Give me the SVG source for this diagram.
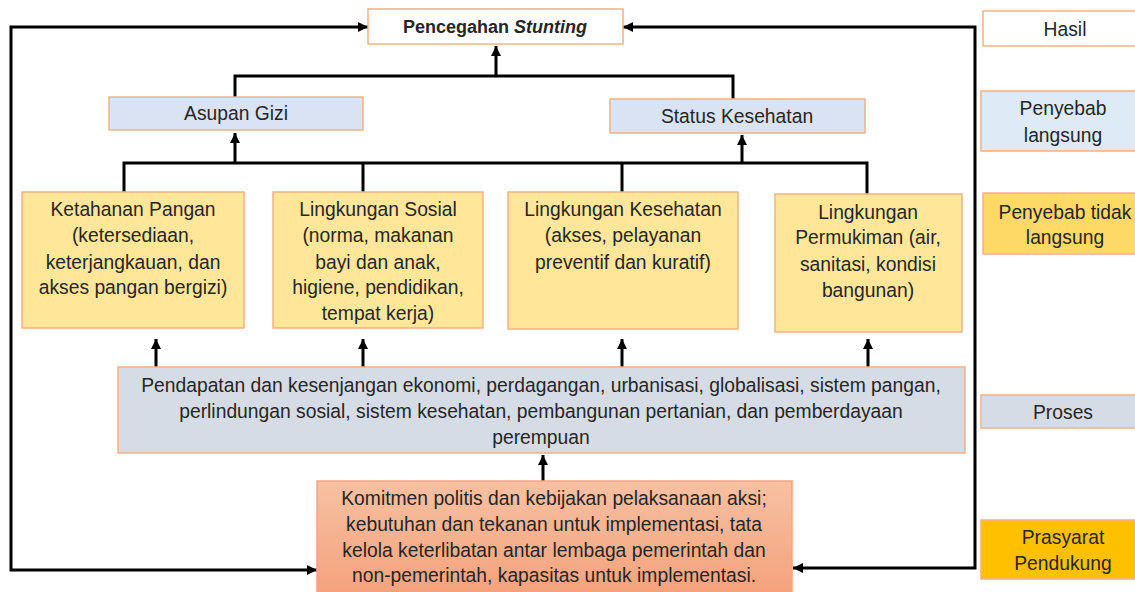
<svg xmlns="http://www.w3.org/2000/svg" width="1135" height="592" viewBox="0 0 1135 592">
  <style>
    text { font-family: "Liberation Sans", Arial, sans-serif; font-size: 19.3px; fill: #262626; text-anchor: middle; }
    .title { font-size: 18px; font-weight: bold; }
    .box { stroke: #F4B183; stroke-width: 1.5; }
    .white { fill: #FFFFFF; }
    .blue { fill: #DAE3F3; }
    .lblue { fill: #DEEBF7; }
    .yellow { fill: #FFE699; }
    .gray { fill: #D6DCE5; }
    .gold { fill: #FFD966; }
    .orange { fill: #FFC000; }
    .conn { fill: none; stroke: #000; stroke-width: 3; }
  </style>
  <defs>
    <marker id="arr" markerUnits="userSpaceOnUse" markerWidth="11" markerHeight="11" refX="10" refY="5" orient="auto-start-reverse">
      <path d="M0,0 L10,5 L0,10 z" fill="#000"/>
    </marker>
    <linearGradient id="salmon" x1="0" y1="0" x2="0" y2="1">
      <stop offset="0" stop-color="#F7C1A2"/>
      <stop offset="1" stop-color="#F4A27C"/>
    </linearGradient>
  </defs>
  <rect width="1135" height="592" fill="#FFFFFF"/>

  <g id="connectors">
    <path class="conn" d="M235,97 V76 H733 V99"/>
    <path class="conn" d="M496,76 V46" marker-end="url(#arr)"/>
    <path class="conn" d="M124,192 V163 H867 V194"/>
    <path class="conn" d="M363,163 V192"/>
    <path class="conn" d="M622,163 V192"/>
    <path class="conn" d="M235,163 V133" marker-end="url(#arr)"/>
    <path class="conn" d="M742,163 V135" marker-end="url(#arr)"/>
    <path class="conn" d="M156,367 V339" marker-end="url(#arr)"/>
    <path class="conn" d="M363,367 V339" marker-end="url(#arr)"/>
    <path class="conn" d="M622,367 V339" marker-end="url(#arr)"/>
    <path class="conn" d="M868,367 V339" marker-end="url(#arr)"/>
    <path class="conn" d="M543,481 V455" marker-end="url(#arr)"/>
    <path class="conn" d="M368,27 H11 V570 H317" marker-start="url(#arr)" marker-end="url(#arr)"/>
    <path class="conn" d="M623,27 H975 V568 H793" marker-start="url(#arr)" marker-end="url(#arr)"/>
  </g>

  <g id="pencegahan">
    <rect class="box white" x="368" y="9" width="255" height="35"/>
    <text class="title" x="495" y="33">Pencegahan <tspan font-style="italic">Stunting</tspan></text>
  </g>

  <g id="asupan-gizi">
    <rect class="box blue" x="109" y="97" width="254" height="33"/>
    <text x="236" y="120">Asupan Gizi</text>
  </g>

  <g id="status-kesehatan">
    <rect class="box blue" x="610" y="99" width="255" height="34"/>
    <text x="737" y="123">Status Kesehatan</text>
  </g>

  <g id="ketahanan-pangan">
    <rect class="box yellow" x="22" y="192" width="222" height="136"/>
    <text x="133" y="216">Ketahanan Pangan</text>
    <text x="133" y="242">(ketersediaan,</text>
    <text x="133" y="269">keterjangkauan, dan</text>
    <text x="133" y="294">akses pangan bergizi)</text>
  </g>

  <g id="lingkungan-sosial">
    <rect class="box yellow" x="273" y="192" width="210" height="136"/>
    <text x="378" y="216">Lingkungan Sosial</text>
    <text x="378" y="242">(norma, makanan</text>
    <text x="378" y="269">bayi dan anak,</text>
    <text x="378" y="294">higiene, pendidikan,</text>
    <text x="378" y="320">tempat kerja)</text>
  </g>

  <g id="lingkungan-kesehatan">
    <rect class="box yellow" x="508" y="192" width="230" height="137"/>
    <text x="623" y="216">Lingkungan Kesehatan</text>
    <text x="623" y="242">(akses, pelayanan</text>
    <text x="623" y="269">preventif dan kuratif)</text>
  </g>

  <g id="lingkungan-permukiman">
    <rect class="box yellow" x="775" y="194" width="187" height="138"/>
    <text x="868" y="219">Lingkungan</text>
    <text x="868" y="244">Permukiman (air,</text>
    <text x="868" y="271">sanitasi, kondisi</text>
    <text x="868" y="297">bangunan)</text>
  </g>

  <g id="pendapatan">
    <rect class="box gray" x="118" y="367" width="847" height="86"/>
    <text x="541" y="392">Pendapatan dan kesenjangan ekonomi, perdagangan, urbanisasi, globalisasi, sistem pangan,</text>
    <text x="541" y="418">perlindungan sosial, sistem kesehatan, pembangunan pertanian, dan pemberdayaan</text>
    <text x="541" y="444">perempuan</text>
  </g>

  <g id="komitmen">
    <rect x="317" y="481" width="475" height="112" fill="url(#salmon)" stroke="#F4A582" stroke-width="1.5"/>
    <text x="554" y="505">Komitmen politis dan kebijakan pelaksanaan aksi;</text>
    <text x="554" y="531">kebutuhan dan tekanan untuk implementasi, tata</text>
    <text x="554" y="557">kelola keterlibatan antar lembaga pemerintah dan</text>
    <text x="554" y="582">non-pemerintah, kapasitas untuk implementasi.</text>
  </g>

  <g id="legend-hasil">
    <rect class="box white" x="983" y="11" width="170" height="35"/>
    <text x="1065" y="36">Hasil</text>
  </g>
  <g id="legend-penyebab-langsung">
    <rect class="box lblue" x="981" y="91" width="170" height="60"/>
    <text x="1063" y="115">Penyebab</text>
    <text x="1063" y="142">langsung</text>
  </g>
  <g id="legend-penyebab-tidak-langsung">
    <rect class="box gold" x="983" y="193" width="170" height="61"/>
    <text x="1065" y="219">Penyebab tidak</text>
    <text x="1065" y="244">langsung</text>
  </g>
  <g id="legend-proses">
    <rect class="box gray" x="981" y="395" width="170" height="33"/>
    <text x="1063" y="419">Proses</text>
  </g>
  <g id="legend-prasyarat">
    <rect class="box orange" x="981" y="520" width="170" height="59"/>
    <text x="1063" y="544">Prasyarat</text>
    <text x="1063" y="570">Pendukung</text>
  </g>
</svg>
